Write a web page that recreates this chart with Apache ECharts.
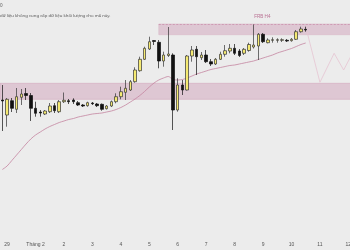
<!DOCTYPE html>
<html>
<head>
<meta charset="utf-8">
<script src="https://cdn.jsdelivr.net/npm/echarts@6/dist/echarts.min.js"></script>
<style>
html,body{margin:0;padding:0;background:#ececec;overflow:hidden;width:350px;height:250px;}
#c{width:364px;height:250px;}
</style>
</head>
<body>
<div id="c"></div>
<script>
// Day labels (one every 6 H4 bars)
const dayLabels = ['29','Tháng 2','2','3','4','5','6','7','8','9','10','11','12'];
const barsPerDay = 6;
const totalSlots = 76;

// H4 candles (price units)
const opens  = [33.80,32.30,33.73,32.87,34.07,34.45,34.25,32.97,32.60,32.40,32.63,33.23,32.63,33.63,33.73,33.80,33.53,33.30,33.23,33.50,33.40,33.37,32.93,33.20,33.63,34.13,34.57,34.80,35.63,36.73,37.87,38.90,39.75,39.57,37.70,38.25,38.30,32.80,35.30,34.80,38.20,38.87,38.03,38.30,37.63,37.40,37.87,38.37,38.70,38.97,38.70,38.47,38.75,39.10,39.20,40.37,39.53,39.77,39.77,39.77,39.77,39.73,39.87,40.63,40.87];
const closes = [33.70,33.87,32.97,34.13,34.40,34.25,32.97,32.47,32.50,32.70,33.20,32.73,33.63,33.77,33.63,33.63,33.30,33.20,33.53,33.43,33.23,32.87,33.20,33.63,34.13,34.63,34.97,35.63,36.80,37.87,38.97,39.63,39.65,37.70,38.30,38.40,32.80,35.30,34.80,38.20,38.80,38.13,38.30,37.63,37.40,37.87,38.37,38.73,38.97,38.47,38.25,38.87,39.35,39.30,40.37,39.63,39.80,39.83,39.83,39.83,39.70,39.87,40.63,40.90,40.80];
const lows   = [30.70,31.13,32.60,32.50,33.30,33.80,31.70,32.13,32.13,32.30,32.50,32.50,32.50,33.50,33.40,33.40,33.20,33.10,33.13,33.30,33.10,32.73,32.85,33.10,33.47,33.87,33.80,34.70,35.53,36.63,37.80,38.80,39.30,36.97,37.13,38.10,30.80,32.63,34.30,34.75,37.63,36.30,37.80,37.50,37.20,37.30,37.80,38.13,38.47,38.30,38.10,38.30,38.63,38.95,37.80,39.50,39.47,39.53,39.53,39.60,39.60,39.63,39.80,40.53,40.63];
const highs  = [35.30,34.00,34.00,35.00,34.90,35.00,34.50,33.63,32.80,32.80,33.50,33.50,33.80,34.55,33.90,33.97,33.70,33.40,33.63,33.60,33.50,33.45,33.30,33.75,34.47,35.13,35.80,35.80,37.07,38.13,39.13,40.13,39.80,39.80,38.63,41.10,38.47,35.97,35.80,38.30,39.20,39.20,38.60,38.80,37.90,38.00,38.63,39.30,39.40,39.40,38.90,39.00,39.53,41.40,40.50,40.50,39.97,40.07,39.97,39.97,39.90,40.00,40.80,41.13,41.13];

// Moving average
const maValues = [26.85,27.20,27.75,28.30,28.85,29.40,29.90,30.30,30.60,30.90,31.15,31.35,31.55,31.70,31.85,31.95,32.10,32.20,32.30,32.40,32.45,32.50,32.60,32.70,32.85,33.05,33.30,33.60,33.90,34.25,34.65,35.10,35.50,35.80,36.00,36.15,35.85,35.80,35.85,36.00,36.20,36.40,36.55,36.70,36.85,36.95,37.05,37.15,37.25,37.30,37.40,37.50,37.60,37.70,37.85,38.00,38.15,38.30,38.50,38.65,38.80,38.95,39.15,39.35,39.50];

// Projected path (slot index, price)
const projSlots  = [64, 67, 70, 72, 74];
const projPrices = [41.13, 35.57, 38.47, 36.80, 38.60];

// Zones
const lowerZone = [33.87, 35.47];
const upperZone = [40.33, 41.40];
const upperZoneStart = 33;
const zoneLabel = 'FRB H4';

const categories = [];
for (let j = 0; j < totalSlots; j++) categories.push(String(j));
const candleData = opens.map((o, k) => [o, closes[k], lows[k], highs[k]]);
const projData = new Array(totalSlots).fill(null);
projSlots.forEach((s, k) => { projData[s] = projPrices[k]; });

const chart = echarts.init(document.getElementById('c'), null, {renderer: 'canvas'});
chart.setOption({
  backgroundColor: '#ececec',
  animation: false,
  grid: {left: -0.4, top: 0, width: 4.745 * totalSlots, height: 238},
  xAxis: {
    type: 'category',
    data: categories,
    boundaryGap: true,
    axisLine: {show: false},
    axisTick: {show: false},
    splitLine: {show: false},
    axisLabel: {
      interval: (idx) => idx >= 1 && (idx - 1) % barsPerDay === 0,
      formatter: (v, idx) => dayLabels[(idx - 1) / barsPerDay] || '',
      fontSize: 5,
      color: '#555',
      margin: 4,
      fontFamily: 'Liberation Sans'
    }
  },
  yAxis: {
    type: 'value', min: 20, max: 43.8, show: false, splitLine: {show: false}
  },
  series: [
    {
      type: 'candlestick',
      data: candleData,
      barWidth: 3,
      itemStyle: {color: '#f5ea72', color0: '#111111', borderColor: '#333333', borderColor0: '#111111', borderWidth: 0.7},
      markArea: {
        silent: true,
        data: [
          [{yAxis: lowerZone[1], itemStyle: {color: 'rgba(215,180,198,0.65)', borderColor: '#d2a9bd', borderWidth: 0.6}}, {yAxis: lowerZone[0]}],
          [{xAxis: upperZoneStart, yAxis: upperZone[1], itemStyle: {color: 'rgba(215,180,198,0.65)', borderColor: '#d8b6c6', borderWidth: 0.5},
            label: {show: true, position: 'top', formatter: zoneLabel, fontSize: 4.6, color: '#b86f92', distance: 5, offset: [4, 0]}},
           {xAxis: totalSlots - 1, yAxis: upperZone[0]}]
        ]
      },
      markLine: {
        silent: true, symbol: 'none', label: {show: false},
        lineStyle: {color: '#c98aa8', type: [2, 1.5], width: 0.7},
        data: [[{xAxis: upperZoneStart, yAxis: upperZone[1]}, {xAxis: totalSlots - 1, yAxis: upperZone[1]}]]
      },
      z: 3
    },
    {
      type: 'line', data: maValues, showSymbol: false, symbol: 'none', smooth: 0.3,
      lineStyle: {color: '#c4849f', width: 0.8}, z: 2
    },
    {
      type: 'line', data: projData, connectNulls: true, showSymbol: false, symbol: 'none',
      lineStyle: {color: '#e6c4d2', width: 0.8}, z: 2
    }
  ],
  graphic: [
    {type: 'text', left: 0, top: 3, style: {text: '0', fontSize: 4.5, fill: '#555', fontFamily: 'Noto Sans'}},
    {type: 'text', left: 0, top: 13.5, style: {text: 'dữ liệu không cung cấp dữ liệu khối lượng cho mã này.', fontSize: 4.3, fill: '#555', fontFamily: 'Noto Sans'}}
  ]
});
</script>
</body>
</html>
